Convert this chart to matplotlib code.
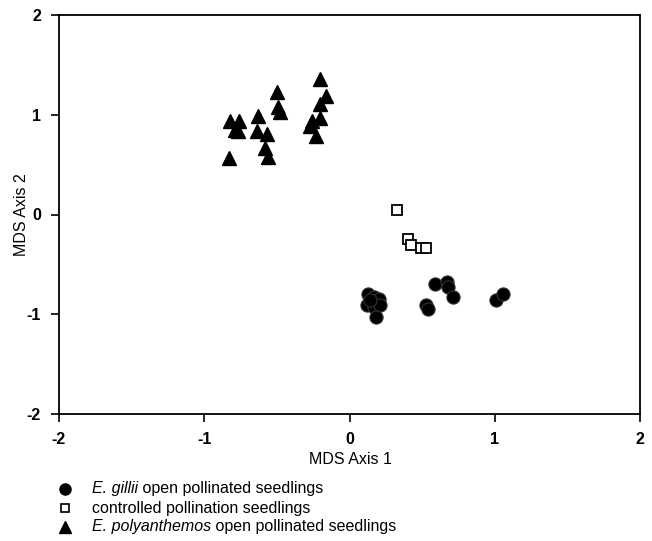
import numpy as np
from matplotlib import pyplot as plt
from matplotlib.lines import Line2D

plt.rcParams['font.family'] = ['Liberation Sans', 'DejaVu Sans']
plt.rcParams['axes.unicode_minus'] = False

# E. gillii open pollinated seedlings
gil_x = [0.13, 0.17, 0.20, 0.12, 0.17, 0.21, 0.18, 0.14, 0.59, 0.67, 0.68, 0.71, 0.53, 0.54, 1.01, 1.06]
gil_y = [-0.80, -0.83, -0.85, -0.91, -0.93, -0.91, -1.03, -0.86, -0.70, -0.68, -0.73, -0.83, -0.91, -0.95, -0.86, -0.80]

# controlled pollination seedlings
con_x = [0.33, 0.40, 0.42, 0.49, 0.53]
con_y = [0.05, -0.25, -0.31, -0.34, -0.34]

# E. polyanthemos open pollinated seedlings
pol_x = [-0.20, -0.50, -0.16, -0.20, -0.49, -0.48, -0.63, -0.82, -0.76, -0.20, -0.26, -0.27,
         -0.77, -0.79, -0.64, -0.57, -0.23, -0.58, -0.56, -0.83]
pol_y = [1.36, 1.23, 1.19, 1.11, 1.08, 1.03, 0.99, 0.94, 0.94, 0.97, 0.94, 0.89,
         0.84, 0.85, 0.84, 0.81, 0.79, 0.67, 0.58, 0.57]

ticks = [-2, -1, 0, 1, 2]

W, H = 652, 541
fig = plt.figure(figsize=(W / 100, H / 100), dpi=100)
# axes box: left 59px, right 640px, top 15px, bottom 414px
ax = fig.add_axes([59 / W, (H - 414) / H, 581 / W, 399 / H])

ax.plot(gil_x, gil_y, 'o', ms=9.5, mfc='black', mec='#333333', mew=0.8, ls='none')
ax.plot(con_x, con_y, 's', ms=7.8, mfc='white', mec='black', mew=1.3, ls='none')
ax.plot(pol_x, pol_y, '^', ms=9.5, mfc='black', mec='black', ls='none')

ax.set_xlim(-2, 2)
ax.set_ylim(-2, 2)
ax.set_xticks(ticks)
ax.set_yticks(ticks)
ax.tick_params(direction='out', length=6, width=1.2, labelsize=11.5, pad=7, top=False, right=False)
for lab in ax.get_xticklabels() + ax.get_yticklabels():
    lab.set_fontweight('bold')
for s in ax.spines.values():
    s.set_linewidth(1.3)

ax.set_xlabel('MDS Axis 1', fontsize=11.5)
ax.set_ylabel('MDS Axis 2', fontsize=11.5)
ax.xaxis.label.set_va('center')
ax.yaxis.label.set_va('center')
ax.xaxis.set_label_coords(0.502, -46 / 399)
ax.yaxis.set_label_coords(-37 / 581, 0.5)

# legend below the plot, drawn by hand so the species names can be italic
rows = [489, 508, 527]
markers = [
    dict(marker='o', ms=8, mfc='black', mec='black'),
    dict(marker='s', ms=6.2, mfc='white', mec='black', mew=1.2),
    dict(marker='^', ms=8.5, mfc='black', mec='black'),
]
italic = ['E. gillii', '', 'E. polyanthemos']
rest = [' open pollinated seedlings', 'controlled pollination seedlings', ' open pollinated seedlings']

for y, mk, it, tx in zip(rows, markers, italic, rest):
    yf = (H - y) / H
    fig.add_artist(Line2D([65 / W], [yf], transform=fig.transFigure, ls='none', **mk))
    if it:
        t = fig.text(92 / W, yf, it, style='italic', fontsize=11.5, va='center')
        ax.annotate(tx, xy=(1, 0), xycoords=t, va='bottom', ha='left',
                    fontsize=11.5, annotation_clip=False)
    else:
        fig.text(92 / W, yf, tx, fontsize=11.5, va='center')

fig.savefig('out.png', dpi=100)
